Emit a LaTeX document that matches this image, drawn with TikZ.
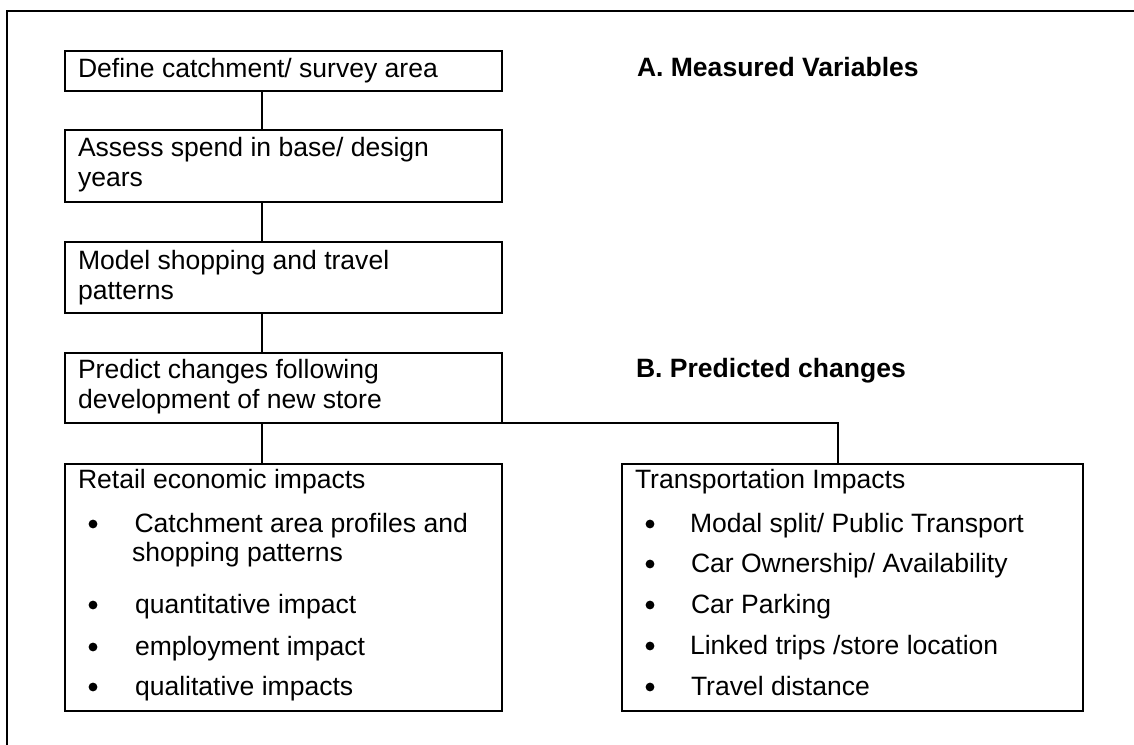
\documentclass[tikz,border=0pt]{standalone}
\usepackage{fontspec}
\setmainfont{Liberation Sans}
\begin{document}
\begin{tikzpicture}[x=0.75pt,y=-0.75pt,
  frame/.style={line width=1.5pt},
  box/.style={draw, line width=1.5pt, rectangle, outer sep=0pt, inner sep=0pt, anchor=north west},
  txt/.style={anchor=base west, inner sep=0pt, outer sep=0pt, font=\fontsize{19.9pt}{22.9pt}\selectfont},
  head/.style={txt, font=\fontsize{19.9pt}{22.9pt}\selectfont\bfseries},
  dot/.style={circle, fill, draw=none, inner sep=0pt, minimum size=6.6pt},
  link/.style={line width=1.5pt}]
\useasboundingbox (0,0) rectangle (1134,745);
% outer frame (cut off at right and bottom)
\coordinate (fr1) at (7,745);
\coordinate (fr2) at (7,11);
\coordinate (fr3) at (1134,11);
\draw[frame] (fr1) -- (fr2) -- (fr3);
% boxes
\node[box, minimum width=327.75pt, minimum height=30pt] (b1) at (65,51) {};
\node[box, minimum width=327.75pt, minimum height=54pt] (b2) at (65,130) {};
\node[box, minimum width=327.75pt, minimum height=53.25pt] (b3) at (65,242) {};
\node[box, minimum width=327.75pt, minimum height=52.5pt] (b4) at (65,353) {};
\node[box, minimum width=327.75pt, minimum height=185.25pt] (b5) at (65,464) {};
\node[box, minimum width=345.75pt, minimum height=185.25pt] (b6) at (622,464) {};
% connectors
\coordinate (cx) at (262,0);
\coordinate (cr) at (838,0);
\draw[link] (b1.south -| cx) -- (b2.north -| cx);
\draw[link] (b2.south -| cx) -- (b3.north -| cx);
\draw[link] (b3.south -| cx) -- (b4.north -| cx);
\draw[link] (b4.south -| cx) -- (b5.north -| cx);
\draw[link] (b4.south east) -- (b4.south east -| cr) -- (b6.north -| cr);
% box texts
\node[txt] (t1) at (78,78) {Define catchment/ survey area};
\node[txt] (t2a) at (78,157) {Assess spend in base/ design};
\node[txt] (t2b) at (78,187) {years};
\node[txt] (t3a) at (78,269) {Model shopping and travel};
\node[txt] (t3b) at (78,299) {patterns};
\node[txt] (t4a) at (78,378) {Predict changes following};
\node[txt] (t4b) at (78,408) {development of new store};
% headings
\node[head] (ha) at (637,77) {A. Measured Variables};
\node[head] (hb) at (636,377) {B. Predicted changes};
% retail box
\node[txt] (r0) at (78,488) {Retail economic impacts};
\node[dot] (rd1) at (93,524) {};
\node[txt] (r1a) at (134.5,532) {Catchment area profiles and};
\node[txt] (r1b) at (132,561) {shopping patterns};
\node[dot] (rd2) at (93,605) {};
\node[txt] (r2) at (135,613) {quantitative impact};
\node[dot] (rd3) at (93,647) {};
\node[txt] (r3) at (135,655) {employment impact};
\node[dot] (rd4) at (93,687) {};
\node[txt] (r4) at (135,695) {qualitative impacts};
% transportation box
\node[txt] (s0) at (635,488) {Transportation Impacts};
\node[dot] (sd1) at (650,524) {};
\node[txt] (s1) at (690,532) {Modal split/ Public Transport};
\node[dot] (sd2) at (650,564) {};
\node[txt] (s2) at (691,572) {Car Ownership/ Availability};
\node[dot] (sd3) at (650,605) {};
\node[txt] (s3) at (691,613) {Car Parking};
\node[dot] (sd4) at (650,646) {};
\node[txt] (s4) at (690,654) {Linked trips /store location};
\node[dot] (sd5) at (650,687) {};
\node[txt] (s5) at (691,695) {Travel distance};
\end{tikzpicture}
\end{document}
